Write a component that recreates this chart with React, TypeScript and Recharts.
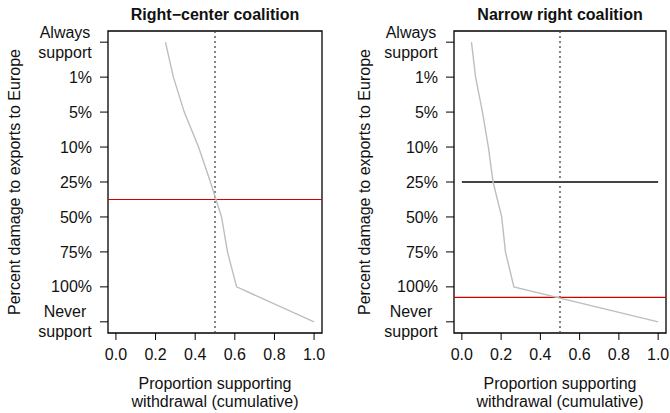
import React from 'react';
import { LineChart, Line, XAxis, YAxis, ReferenceLine, ReferenceArea } from 'recharts';

// damage levels, top to bottom
const LEVELS = ['Always\nsupport', '1%', '5%', '10%', '25%', '50%', '75%', '100%', 'Never\nsupport'];
const X_TICKS = [0, 0.2, 0.4, 0.6, 0.8, 1.0];

// cumulative share supporting withdrawal at each level
const rightCenter = [0.25, 0.29, 0.345, 0.417, 0.477, 0.533, 0.563, 0.609, 1.0];
const narrowRight = [0.049, 0.07, 0.105, 0.135, 0.159, 0.203, 0.222, 0.265, 1.0];

// where the cumulative curve crosses one half
const rightCenterCut = 4.5;
const narrowRightCut = 7.3;
const narrowRightMark = 4;

const FONT = '"Liberation Sans", Arial, Helvetica, sans-serif';
const W = 335;
const H = 413;
const X_DOMAIN: [number, number] = [-0.04, 1.04];
const Y_DOMAIN: [number, number] = [-0.32, 8.32];

const toRows = (vals: number[]) => vals.map((p, lvl) => ({ p, lvl }));

const LevelTick = (props: any) => {
  const { x, y, payload } = props;
  const lines = LEVELS[payload.value].split('\n');
  if (lines.length === 1) {
    return (
      <text x={x} y={y} dy="0.35em" textAnchor="end" fontSize={16} fontFamily={FONT} fill="#111">
        {lines[0]}
      </text>
    );
  }
  return (
    <g>
      {lines.map((l, i) => (
        <text key={i} x={x - 27} y={y + (i === 0 ? -10 : 10)} dy="0.35em" textAnchor="middle" fontSize={16} fontFamily={FONT} fill="#111">
          {l}
        </text>
      ))}
    </g>
  );
};

interface PanelProps {
  title: string;
  values: number[];
  left: number;
  yWidth: number;
  rightMargin: number;
  cut: number;
  mark?: number;
}

const Panel: React.FC<PanelProps> = ({ title, values, left, yWidth, rightMargin, cut, mark }) => {
  const plotLeft = yWidth;
  const plotRight = W - rightMargin;
  const cx = (plotLeft + plotRight) / 2;
  return (
    <div style={{ position: 'absolute', left, top: 0, width: W, height: H }}>
      <LineChart width={W} height={H} data={toRows(values)} margin={{ top: 31, right: rightMargin, bottom: 50, left: 0 }}>
        <XAxis
          type="number"
          dataKey="p"
          domain={X_DOMAIN}
          ticks={X_TICKS}
          allowDataOverflow
          height={30}
          tickFormatter={(v: number) => v.toFixed(1)}
          tickSize={7}
          tickMargin={9}
          axisLine={false}
          tickLine={{ stroke: '#000' }}
          tick={{ fontSize: 16, fontFamily: FONT, fill: '#111' }}
        />
        <YAxis
          type="number"
          dataKey="lvl"
          domain={Y_DOMAIN}
          ticks={[0, 1, 2, 3, 4, 5, 6, 7, 8]}
          reversed
          allowDataOverflow
          width={yWidth}
          tickSize={8}
          tickMargin={8}
          axisLine={false}
          tickLine={{ stroke: '#000' }}
          tick={<LevelTick />}
          interval={0}
        />
        <ReferenceArea
          x1={X_DOMAIN[0]}
          x2={X_DOMAIN[1]}
          y1={Y_DOMAIN[0]}
          y2={Y_DOMAIN[1]}
          ifOverflow="visible"
          fill="#fff"
          fillOpacity={0}
          stroke="#000"
          strokeOpacity={1}
          strokeWidth={1.3}
        />
        <ReferenceLine x={0.5} stroke="#444" strokeDasharray="2 3" strokeWidth={1.3} />
        {mark !== undefined && (
          <ReferenceLine segment={[{ x: 0, y: mark }, { x: 1, y: mark }]} stroke="#444" strokeWidth={2} />
        )}
        <ReferenceLine y={cut} stroke="#d40000" strokeWidth={1.2} />
        <Line dataKey="lvl" stroke="#bebebe" strokeWidth={1.4} dot={false} isAnimationActive={false} />
      </LineChart>
      <svg width={W} height={H} style={{ position: 'absolute', left: 0, top: 0, pointerEvents: 'none' }}>
        <text x={cx} y={20} textAnchor="middle" fontSize={16} fontWeight="bold" fontFamily={FONT} fill="#111">
          {title}
        </text>
        <text x={cx} y={389} textAnchor="middle" fontSize={16} fontFamily={FONT} fill="#111">
          Proportion supporting
        </text>
        <text x={cx} y={407} textAnchor="middle" fontSize={16} fontFamily={FONT} fill="#111">
          withdrawal (cumulative)
        </text>
        <text
          x={0}
          y={0}
          transform={`translate(${left === 0 ? 20 : 35}, 182) rotate(-90)`}
          textAnchor="middle"
          fontSize={16}
          fontFamily={FONT}
          fill="#111"
        >
          Percent damage to exports to Europe
        </text>
      </svg>
    </div>
  );
};

export default function App() {
  return (
    <div style={{ position: 'absolute', left: 0, top: 0, width: 670, height: 413, background: '#fff' }}>
      <Panel title="Right−center coalition" values={rightCenter} left={0} yWidth={108} rightMargin={13} cut={rightCenterCut} />
      <Panel
        title="Narrow right coalition"
        values={narrowRight}
        left={335}
        yWidth={119}
        rightMargin={4}
        cut={narrowRightCut}
        mark={narrowRightMark}
      />
    </div>
  );
}
